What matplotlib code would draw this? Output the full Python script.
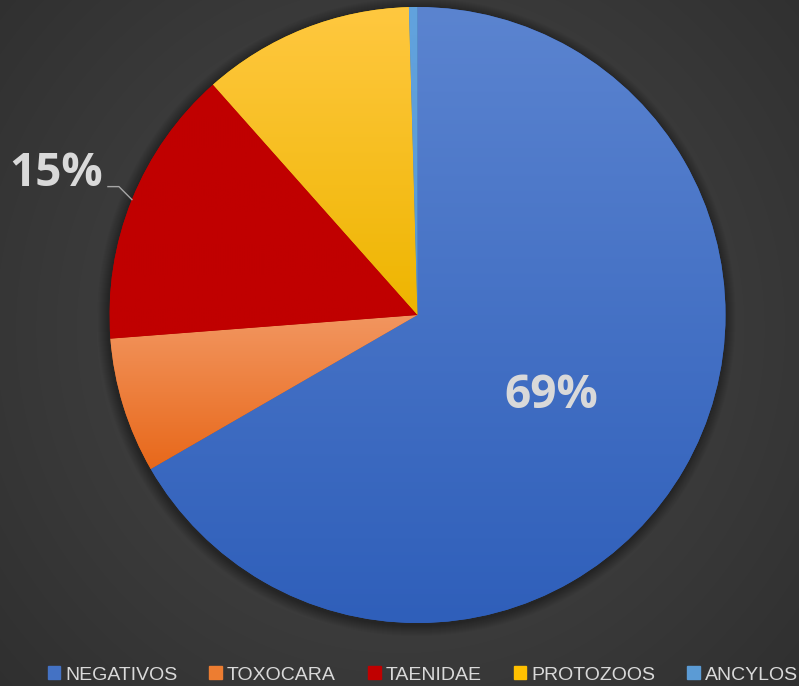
import numpy as np
import matplotlib.pyplot as plt
from matplotlib.colors import to_rgb
from matplotlib.patches import Circle, Rectangle

categories = ['NEGATIVOS', 'TOXOCARA', 'TAENIDAE', 'PROTOZOOS', 'ANCYLOS']
counts = [150, 16, 33, 25, 1]
label_text = ['69%', '', '15%', '', '']
top_colors = ['#5B84D0', '#F29660', '#C00000', '#FFC840', '#62A3DE']
bottom_colors = ['#2F5FBA', '#E8681A', '#C00000', '#EEB500', '#5898D3']
legend_colors = ['#4472C4', '#ED7D31', '#C00000', '#FFC000', '#5B9BD5']

W, H = 799, 686
fig = plt.figure(figsize=(W / 100, H / 100), dpi=100)
ax = fig.add_axes([0, 0, 1, 1])

# radial background
yy, xx = np.mgrid[0:H, 0:W]
d = np.clip(np.hypot(xx - 400, yy - (H - 330)) / np.hypot(420, 380), 0, 1)
c0 = np.array(to_rgb('#4a4a4a'))
c1 = np.array(to_rgb('#2e2e2e'))
bg = c0 + (c1 - c0) * d[..., None]
ax.imshow(bg, extent=(0, W, 0, H), origin='lower', zorder=0, aspect='auto')

cx, cy, r = 417.5, H - 315, 308

# soft shadow behind the pie
for k in range(1, 12):
    ax.add_patch(Circle((cx - 1, cy - 2), r + k, color='black', alpha=0.03, lw=0, zorder=1))

wedges, _ = ax.pie(counts, startangle=90, counterclock=False, center=(cx, cy), radius=r,
                   colors=bottom_colors, wedgeprops=dict(linewidth=0, zorder=2))

# vertical gradient inside each slice
for w, ctop, cbot in zip(wedges, top_colors, bottom_colors):
    ang = np.radians(np.linspace(w.theta1, w.theta2, 200))
    xs = np.r_[cx, cx + r * np.cos(ang)]
    ys = np.r_[cy, cy + r * np.sin(ang)]
    t = np.linspace(0, 1, 256)[:, None, None]
    grad = np.array(to_rgb(cbot)) + (np.array(to_rgb(ctop)) - np.array(to_rgb(cbot))) * t
    im = ax.imshow(grad, extent=(xs.min(), xs.max(), ys.min(), ys.max()), origin='lower',
                   zorder=3, aspect='auto', interpolation='bilinear')
    im.set_clip_path(w)

lab_font = dict(family=['Open Sans', 'DejaVu Sans'], fontsize=33, fontweight='bold',
                fontstyle='normal', color='#d9d9d9')
for w, txt in zip(wedges, label_text):
    if not txt:
        continue
    mid = np.radians((w.theta1 + w.theta2) / 2)
    frac = (w.theta2 - w.theta1) / 360
    if frac > 0.3:
        ax.text(cx + 0.5 * r * np.cos(mid), cy + 0.5 * r * np.sin(mid) - 3, txt,
                ha='center', va='center', zorder=5, **lab_font)
    else:
        ex, ey = cx + r * np.cos(mid), cy + r * np.sin(mid)
        lx = [ex, ex - 13, ex - 24]
        ly = [ey, ey + 13, ey + 13]
        ax.plot(lx, ly, color='#a6a6a6', lw=1, zorder=5)
        ax.text(lx[-1] - 5, ly[-1] + 1, txt, ha='right', va='baseline', zorder=5, **lab_font)

handles = [Rectangle((0, 0), 1, 1, color=c) for c in legend_colors]
leg = fig.legend(handles, categories, loc='lower center', bbox_to_anchor=(0.529, -0.022), ncol=5,
                 frameon=False, handlelength=0.65, handleheight=0.65, handletextpad=0.25,
                 columnspacing=1.65, prop=dict(family=['Liberation Sans', 'DejaVu Sans'], size=14))
for t in leg.get_texts():
    t.set_color('#d9d9d9')

ax.set_xlim(0, W)
ax.set_ylim(0, H)
ax.set_aspect('auto')
ax.axis('off')
fig.savefig('out.png', dpi=100)
